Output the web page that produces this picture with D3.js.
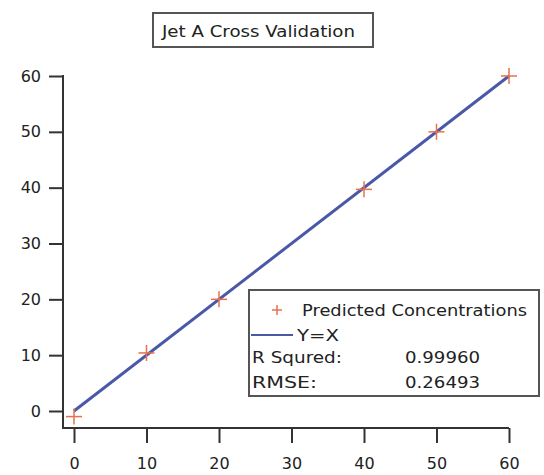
<!DOCTYPE html>
<html>
<head>
<meta charset="utf-8">
<script src="https://cdn.jsdelivr.net/npm/d3@7"></script>
<style>
  body { margin: 0; background: #fff; }
  text { font-family: "DejaVu Sans", sans-serif; fill: #222; }
</style>
</head>
<body>
<script>
// data
var actual = [0, 10, 20, 40, 50, 60];
var predicted = [-1, 10.4, 20, 39.7, 50, 60];
var xTicks = [0, 10, 20, 30, 40, 50, 60];
var yTicks = [0, 10, 20, 30, 40, 50, 60];
var statNames = ["R Squred:", "RMSE:"];
var statValues = ["0.99960", "0.26493"];

var width = 544, height = 475;

var svg = d3.select('body')
            .append('svg')
            .attr('width', width)
            .attr('height', height)

var x = d3.scaleLinear().domain([0, 60]).range([74, 509]);
var y = d3.scaleLinear().domain([0, 60]).range([411, 76]);

// axes
var xAxis = svg.append('g')
            .attr('transform', 'translate(0,428)')
            .call(d3.axisBottom(x).tickValues(xTicks).tickSize(15).tickPadding(15).tickSizeOuter(0))
xAxis.select('.domain').remove()
xAxis.append('line')
     .attr('x1', 63).attr('x2', 509)
     .attr('stroke', '#333').attr('stroke-width', 2)

var yAxis = svg.append('g')
            .attr('transform', 'translate(63,0)')
            .call(d3.axisLeft(y).tickValues(yTicks).tickSize(14).tickPadding(8).tickSizeOuter(0))
yAxis.select('.domain').remove()
yAxis.append('line')
     .attr('y1', 75).attr('y2', 429)
     .attr('stroke', '#333').attr('stroke-width', 2)

svg.selectAll('.tick line').attr('stroke', '#333').attr('stroke-width', 2)
svg.selectAll('.tick text').style('font-size', '16px').attr('fill', '#222')

// Y=X line
svg.append('line')
   .attr('x1', x(0)).attr('y1', y(0))
   .attr('x2', x(60)).attr('y2', y(60))
   .attr('stroke', '#4a58a8')
   .attr('stroke-width', 3)

// predicted markers (plus)
var pts = svg.selectAll('g.pt')
   .data(actual)
   .enter()
   .append('g')
   .attr('class', 'pt')
   .attr('transform', function(d, i) { return 'translate(' + x(d) + ',' + y(predicted[i]) + ')'; })
pts.append('line').attr('x1', -8).attr('x2', 8).attr('stroke', '#e8704c').attr('stroke-width', 1.5)
pts.append('line').attr('y1', -8).attr('y2', 8).attr('stroke', '#e8704c').attr('stroke-width', 1.5)

// title box
svg.append('rect')
   .attr('x', 153).attr('y', 13).attr('width', 220).attr('height', 34)
   .attr('fill', '#fff').attr('stroke', '#555').attr('stroke-width', 2)
svg.append('text')
   .attr('x', 162).attr('y', 37)
   .attr('textLength', 193).attr('lengthAdjust', 'spacingAndGlyphs')
   .style('font-size', '16px')
   .text('Jet A Cross Validation')

// legend
var leg = svg.append('g')
leg.append('rect')
   .attr('x', 249).attr('y', 290).attr('width', 290).attr('height', 106)
   .attr('fill', '#fff').attr('stroke', '#555').attr('stroke-width', 2)
var lp = leg.append('g').attr('transform', 'translate(277,310)')
lp.append('line').attr('x1', -5).attr('x2', 5).attr('stroke', '#e8704c').attr('stroke-width', 1.5)
lp.append('line').attr('y1', -5).attr('y2', 5).attr('stroke', '#e8704c').attr('stroke-width', 1.5)
leg.append('text').attr('x', 302).attr('y', 316)
   .attr('textLength', 225).attr('lengthAdjust', 'spacingAndGlyphs')
   .style('font-size', '16px').text('Predicted Concentrations')
leg.append('line')
   .attr('x1', 251).attr('x2', 293).attr('y1', 335).attr('y2', 335)
   .attr('stroke', '#4a58a8').attr('stroke-width', 2)
leg.append('text').attr('x', 297).attr('y', 341)
   .attr('textLength', 42).attr('lengthAdjust', 'spacingAndGlyphs')
   .style('font-size', '16px').text('Y=X')
var nameLen = [90, 65];
leg.selectAll('text.sn')
   .data(statNames)
   .enter()
   .append('text')
   .attr('class', 'sn')
   .attr('x', 252)
   .attr('y', function(d, i) { return 363 + i * 25; })
   .attr('textLength', function(d, i) { return nameLen[i]; })
   .attr('lengthAdjust', 'spacingAndGlyphs')
   .style('font-size', '16px')
   .text(function(d) { return d; })
leg.selectAll('text.sv')
   .data(statValues)
   .enter()
   .append('text')
   .attr('class', 'sv')
   .attr('x', 405)
   .attr('y', function(d, i) { return 363 + i * 25; })
   .attr('textLength', 75).attr('lengthAdjust', 'spacingAndGlyphs')
   .style('font-size', '16px')
   .text(function(d) { return d; })
</script>
</body>
</html>
